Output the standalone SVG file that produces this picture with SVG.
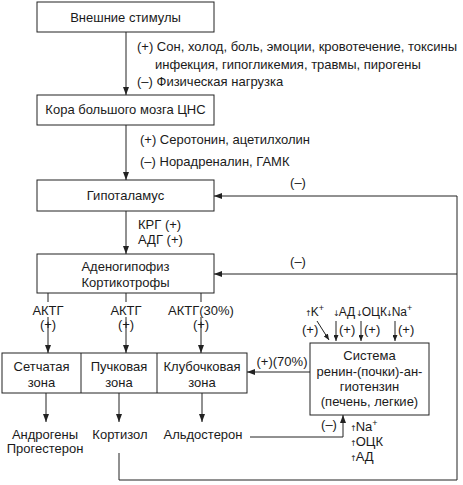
<svg xmlns="http://www.w3.org/2000/svg" width="463" height="485" viewBox="0 0 463 485">
<defs>
<style>
text{font-family:"Liberation Sans",Arial,sans-serif;font-size:13px;fill:#1a1a1a}
.c{text-anchor:middle}
.box{fill:#fff;stroke:#222;stroke-width:1}
.ln{fill:none;stroke:#222;stroke-width:1}
.sm{font-family:"DejaVu Sans",sans-serif;font-size:8px}
.sup{font-size:9px}
.t12{font-size:12px}
</style>
<marker id="ah" markerWidth="8" markerHeight="6" refX="8" refY="3" orient="auto" markerUnits="userSpaceOnUse">
<path d="M0,0 L8,3 L0,6 z" fill="#222"/>
</marker>
<marker id="ahs" markerWidth="6" markerHeight="5" refX="6" refY="2.5" orient="auto" markerUnits="userSpaceOnUse">
<path d="M0,0 L6,2.5 L0,5 z" fill="#222"/>
</marker>
</defs>
<rect width="463" height="485" fill="#fff"/>

<g id="connectors">
<line class="ln" x1="126" y1="32" x2="126" y2="95" marker-end="url(#ah)"/>
<line class="ln" x1="126" y1="125" x2="126" y2="180" marker-end="url(#ah)"/>
<line class="ln" x1="126" y1="211" x2="126" y2="254" marker-end="url(#ah)"/>
<polyline class="ln" points="119,453 119,480 457,480 457,196 214,196" marker-end="url(#ah)"/>
<line class="ln" x1="457" y1="274" x2="214" y2="274" marker-end="url(#ah)"/>
<line class="ln" x1="48" y1="293" x2="48" y2="302"/>
<line class="ln" x1="48" y1="317" x2="48" y2="353" marker-end="url(#ah)"/>
<line class="ln" x1="126" y1="293" x2="126" y2="302"/>
<line class="ln" x1="126" y1="317" x2="126" y2="353" marker-end="url(#ah)"/>
<line class="ln" x1="201" y1="293" x2="201" y2="302"/>
<line class="ln" x1="201" y1="317" x2="201" y2="353" marker-end="url(#ah)"/>
<line class="ln" x1="46" y1="393" x2="46" y2="422" marker-end="url(#ah)"/>
<line class="ln" x1="119" y1="393" x2="119" y2="422" marker-end="url(#ah)"/>
<line class="ln" x1="202" y1="393" x2="202" y2="422" marker-end="url(#ah)"/>
<line class="ln" x1="310" y1="372" x2="247" y2="372" marker-end="url(#ah)"/>
<polyline class="ln" points="250,437 343,437 343,415" marker-end="url(#ah)"/>
<line class="ln" x1="317" y1="321" x2="329" y2="340" marker-end="url(#ahs)"/>
<line class="ln" x1="336" y1="321" x2="336" y2="341" marker-end="url(#ahs)"/>
<line class="ln" x1="361" y1="321" x2="361" y2="341" marker-end="url(#ahs)"/>
<line class="ln" x1="395" y1="321" x2="395" y2="341" marker-end="url(#ahs)"/>
</g>

<g id="stimuli">
<rect class="box" x="37" y="2" width="177" height="30"/>
<text class="c" x="125.5" y="22">Внешние стимулы</text>
</g>
<g id="stimuli-labels">
<text x="137" y="51">(+) Сон, холод, боль, эмоции, кровотечение, токсины</text>
<text x="155" y="69">инфекция, гипогликемия, травмы, пирогены</text>
<text x="137" y="86">(–) Физическая нагрузка</text>
</g>
<g id="cortex">
<rect class="box" x="37" y="95" width="177" height="30"/>
<text class="c" x="125.5" y="114">Кора большого мозга ЦНС</text>
</g>
<g id="cortex-labels">
<text x="140" y="144">(+) Серотонин, ацетилхолин</text>
<text x="140" y="166">(–) Норадреналин, ГАМК</text>
</g>
<g id="hypothalamus">
<rect class="box" x="37" y="180" width="177" height="31"/>
<text class="c" x="125.5" y="200">Гипоталамус</text>
</g>
<g id="feedback-labels">
<text class="c" x="298" y="187">(–)</text>
<text class="c" x="298" y="266">(–)</text>
</g>
<g id="hyp-labels">
<text x="138" y="229">КРГ (+)</text>
<text x="138" y="244">АДГ (+)</text>
</g>
<g id="adenohypophysis">
<rect class="box" x="37" y="254" width="177" height="39"/>
<text class="c" x="125.5" y="271">Аденогипофиз</text>
<text class="c" x="125.5" y="287">Кортикотрофы</text>
</g>
<g id="actg-labels">
<text class="c" x="48" y="315">АКТГ</text>
<text class="c" x="48" y="329">(+)</text>
<text class="c" x="126" y="315">АКТГ</text>
<text class="c" x="126" y="329">(+)</text>
<text class="c" x="201" y="315">АКТГ(30%)</text>
<text class="c" x="201" y="329">(+)</text>
</g>
<g id="zones">
<rect class="box" x="2" y="353" width="245" height="40"/>
<line class="ln" x1="81" y1="353" x2="81" y2="393"/>
<line class="ln" x1="157" y1="353" x2="157" y2="393"/>
<text class="c" x="41.5" y="371">Сетчатая</text>
<text class="c" x="41.5" y="387">зона</text>
<text class="c" x="119" y="371">Пучковая</text>
<text class="c" x="119" y="387">зона</text>
<text class="c" x="202" y="371">Клубочковая</text>
<text class="c" x="202" y="387">зона</text>
</g>
<g id="hormones">
<text class="c" x="45" y="439">Андрогены</text>
<text class="c" x="45" y="453">Прогестерон</text>
<text class="c" x="120" y="439">Кортизол</text>
<text class="c" x="203" y="439">Альдостерон</text>
</g>
<g id="renin">
<rect class="box" x="310" y="343" width="119" height="72"/>
<text class="c" x="369.5" y="360">Система</text>
<text class="c" x="369.5" y="376">ренин-(почки)-ан-</text>
<text class="c" x="369.5" y="391">гиотензин</text>
<text class="c" x="369.5" y="406">(печень, легкие)</text>
</g>
<g id="renin-labels">
<text x="282" y="366" class="c">(+)(70%)</text>
<text class="t12" x="305" y="316"><tspan class="sm">↑</tspan><tspan dx="-1">K</tspan><tspan class="sup" dy="-5">+</tspan></text>
<text class="t12" x="333" y="316"><tspan class="sm">↓</tspan><tspan dx="-1">АД</tspan></text>
<text class="t12" x="356" y="316"><tspan class="sm">↓</tspan><tspan dx="-1">ОЦК</tspan></text>
<text class="t12" x="386" y="316"><tspan class="sm">↓</tspan><tspan dx="-1">Na</tspan><tspan class="sup" dy="-5">+</tspan></text>
<text x="302" y="334">(+)</text>
<text x="339" y="334">(+)</text>
<text x="364" y="334">(+)</text>
<text x="398" y="334">(+)</text>
<text x="329" y="429" class="c">(–)</text>
<text x="350" y="431"><tspan class="sm">↑</tspan><tspan dx="-1">Na</tspan><tspan class="sup" dy="-5">+</tspan></text>
<text x="350" y="446"><tspan class="sm">↑</tspan><tspan dx="-1">ОЦК</tspan></text>
<text x="350" y="461"><tspan class="sm">↑</tspan><tspan dx="-1">АД</tspan></text>
</g>
</svg>
